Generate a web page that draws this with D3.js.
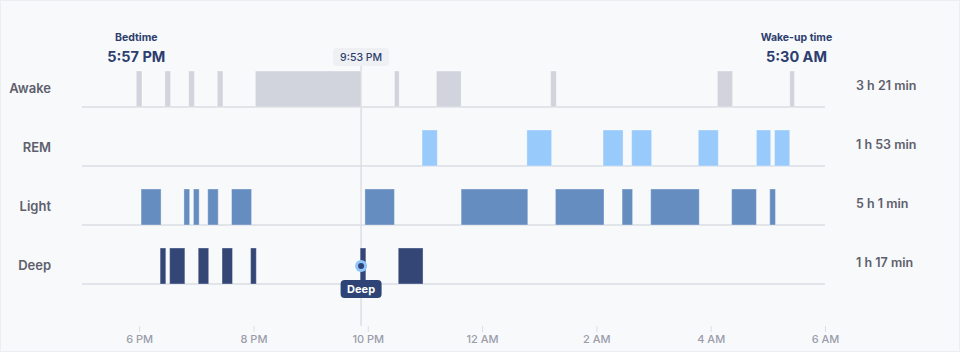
<!DOCTYPE html>
<html lang="en">
<head>
    <meta charset="UTF-8">
    <title>Sleep stages</title>
    <style>
        body { margin: 0; background: #f8f9fb; }
        svg { display: block; font-family: Inter, "Noto Sans", sans-serif; }
    </style>
</head>
<body>
    <svg width="960" height="352"></svg>
    <script src="https://d3js.org/d3.v7.min.js"></script>
    <script>
        // stages, top to bottom, and the total time of each
        var stages = ["Awake", "REM", "Light", "Deep"]
        var totals = ["3 h 21 min", "1 h 53 min", "5 h 1 min", "1 h 17 min"]

        // periods as [start, end] clock times (hours < 12 are the next morning)
        var awake = [["17:57", "18:03"], ["18:27", "18:33"], ["18:52", "18:58"], ["19:22", "19:28"],
            ["20:02", "21:53"], ["22:28", "22:33"], ["23:12", "23:38"], ["01:12", "01:18"],
            ["04:07", "04:23"], ["05:23", "05:28"]]
        var rem = [["22:57", "23:13"], ["00:47", "01:13"], ["02:07", "02:28"], ["02:37", "02:58"],
            ["03:47", "04:08"], ["04:48", "05:03"], ["05:07", "05:23"]]
        var light = [["18:02", "18:23"], ["18:47", "18:53"], ["18:57", "19:03"], ["19:12", "19:23"],
            ["19:37", "19:58"], ["21:57", "22:28"], ["23:38", "00:48"], ["01:17", "02:08"],
            ["02:27", "02:38"], ["02:57", "03:48"], ["04:22", "04:48"], ["05:02", "05:08"]]
        var deep = [["18:22", "18:28"], ["18:32", "18:48"], ["19:02", "19:13"], ["19:27", "19:38"],
            ["19:57", "20:03"], ["21:52", "21:58"], ["22:32", "22:58"]]

        var bedtime = "17:57"
        var wakeup = "05:30"
        var hoverTime = "21:53"
        var hoverStage = "Deep"
        var axisStart = "17:00"
        var axisEnd = "06:00"

        var colors = { Awake: "#d1d4dc", REM: "#98cafc", Light: "#658dc0", Deep: "#334676" }

        function parse(t) {
            var p = t.split(":").map(Number)
            var day = p[0] >= 12 ? 1 : 2
            return new Date(2024, 0, day, p[0], p[1])
        }

        var periods = []
        ;[awake, rem, light, deep].forEach(function (list, i) {
            list.forEach(function (d) {
                periods.push({ stage: stages[i], start: parse(d[0]), end: parse(d[1]) })
            })
        })

        var svg = d3.select("svg")
        var width = +svg.attr("width")
        var height = +svg.attr("height")

        svg.append("rect").attr("x", 0.5).attr("y", 0.5)
            .attr("width", width - 1).attr("height", height - 1)
            .attr("fill", "#f8f9fb").attr("stroke", "#eceef2")

        var x = d3.scaleTime().domain([parse(axisStart), parse(axisEnd)]).range([82, 825])
        var y = d3.scaleBand().domain(stages).range([48, 284])
        var barH = 36
        function base(s) { return y(s) + y.bandwidth() }

        // grid lines under each row
        svg.append("g").selectAll("line").data(stages).enter().append("line")
            .attr("x1", x.range()[0]).attr("x2", x.range()[1])
            .attr("y1", function (d) { return base(d) }).attr("y2", function (d) { return base(d) })
            .attr("stroke", "#dadce2").attr("stroke-width", 1.5)

        // hover line
        var hx = x(parse(hoverTime))
        svg.append("line").attr("x1", hx).attr("x2", hx).attr("y1", 66).attr("y2", 326)
            .attr("stroke", "#dcdee4").attr("stroke-width", 1.5)

        // stage bars
        svg.append("g").selectAll("rect").data(periods).enter().append("rect")
            .attr("x", function (d) { return x(d.start) })
            .attr("width", function (d) { return x(d.end) - x(d.start) })
            .attr("y", function (d) { return base(d.stage) - barH })
            .attr("height", barH)
            .attr("fill", function (d) { return colors[d.stage] })
            .attr("stroke", "rgba(255,255,255,0.35)").attr("stroke-width", 1)

        // row labels
        svg.append("g").selectAll("text").data(stages).enter().append("text")
            .attr("x", 51).attr("y", function (d) { return base(d) - 14 })
            .attr("text-anchor", "end").attr("font-size", 13).attr("font-weight", 600)
            .attr("fill", "#5d606c").text(function (d) { return d })

        svg.append("g").selectAll("text").data(totals).enter().append("text")
            .attr("x", 856).attr("y", function (d, i) { return base(stages[i]) - 17 })
            .attr("font-size", 12.5).attr("font-weight", 600)
            .attr("fill", "#5d606c").text(function (d) { return d })

        // x axis
        var axis = svg.append("g").attr("transform", "translate(0,326)")
            .call(d3.axisBottom(x).ticks(d3.timeHour.every(2)).tickSize(6).tickPadding(3)
                .tickFormat(d3.timeFormat("%-I %p")))
        axis.select(".domain").remove()
        axis.selectAll(".tick line").attr("stroke", "#dcdee4")
        axis.selectAll(".tick text").attr("fill", "#9b9dab").attr("font-size", 11)
            .attr("font-weight", 500).attr("font-family", "Inter, sans-serif")

        // bedtime / wake-up headers
        var fmt = d3.timeFormat("%-I:%M %p")
        var heads = [["Bedtime", bedtime], ["Wake-up time", wakeup]]
        heads.forEach(function (h) {
            var cx = x(parse(h[1]))
            svg.append("text").attr("x", cx).attr("y", 41).attr("text-anchor", "middle")
                .attr("font-size", 10.5).attr("font-weight", 700).attr("fill", "#2d3e6e").text(h[0])
            svg.append("text").attr("x", cx).attr("y", 61.5).attr("text-anchor", "middle")
                .attr("font-size", 14.5).attr("font-weight", 700).attr("fill", "#2d3e6e").text(fmt(parse(h[1])))
        })

        // hover time tooltip
        svg.append("rect").attr("x", hx - 28).attr("y", 48).attr("width", 56).attr("height", 18)
            .attr("rx", 4).attr("fill", "#eef0f4")
        svg.append("text").attr("x", hx).attr("y", 61).attr("text-anchor", "middle")
            .attr("font-size", 10.5).attr("font-weight", 500).attr("fill", "#2d3e6e").text(fmt(parse(hoverTime)))

        // hover point and stage tooltip
        var hy = base(hoverStage) - barH / 2
        svg.append("circle").attr("cx", hx).attr("cy", hy).attr("r", 6).attr("fill", "#8ec5fb")
        svg.append("circle").attr("cx", hx).attr("cy", hy).attr("r", 3).attr("fill", "#2f4476")
        svg.append("rect").attr("x", hx - 20.5).attr("y", 280).attr("width", 41).attr("height", 18)
            .attr("rx", 4).attr("fill", "#2f4476")
        svg.append("text").attr("x", hx).attr("y", 293).attr("text-anchor", "middle")
            .attr("font-size", 11).attr("font-weight", 700).attr("fill", "#ffffff").text(hoverStage)
    </script>
</body>
</html>
